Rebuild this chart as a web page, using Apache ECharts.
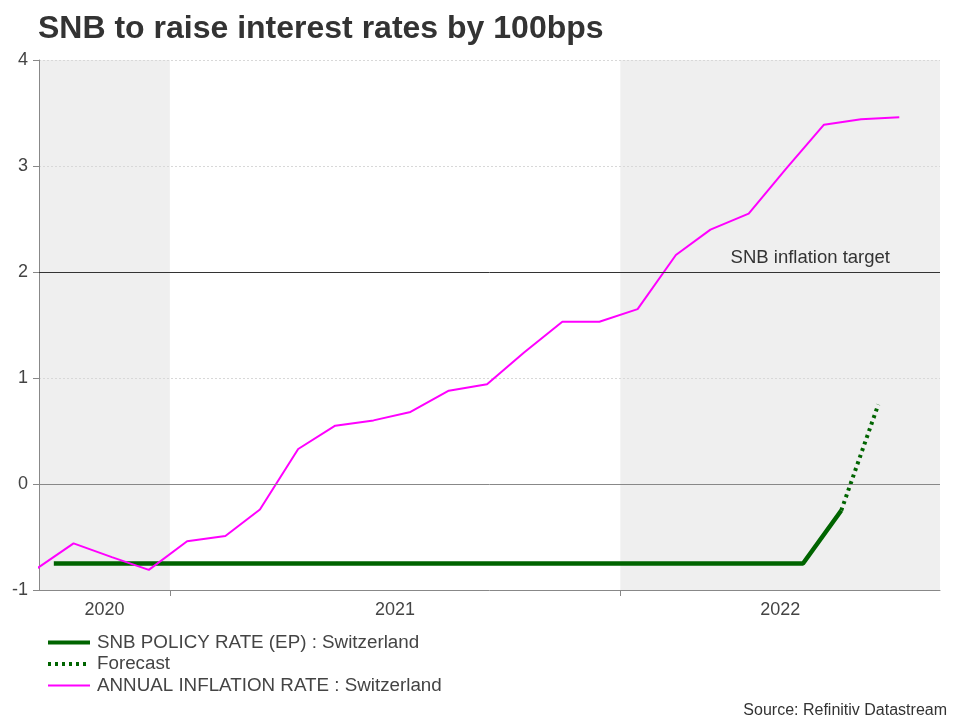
<!DOCTYPE html>
<html>
<head>
<meta charset="utf-8">
<script src="https://cdn.jsdelivr.net/npm/echarts@6/dist/echarts.min.js"></script>
<style>html,body{margin:0;padding:0;background:#fff}#c{width:960px;height:720px}</style>
</head>
<body>
<div id="c"></div>
<script>
// ---- data ----
var titleText = 'SNB to raise interest rates by 100bps';
var sourceText = 'Source: Refinitiv Datastream';
var seriesNames = ['SNB POLICY RATE (EP) : Switzerland', 'Forecast', 'ANNUAL INFLATION RATE : Switzerland'];
var targetLabel = 'SNB inflation target';
var targetValue = 2;

var inflationDates = ['2020-09-15','2020-10-15','2020-11-15','2020-12-15',
  '2021-01-15','2021-02-15','2021-03-15','2021-04-15','2021-05-15','2021-06-15',
  '2021-07-15','2021-08-15','2021-09-15','2021-10-15','2021-11-15','2021-12-15',
  '2022-01-15','2022-02-15','2022-03-15','2022-04-15','2022-05-15','2022-06-15',
  '2022-07-15','2022-08-15'];
var inflationValues = [-0.80, -0.56, -0.69, -0.81,
  -0.54, -0.49, -0.24, 0.33, 0.55, 0.60,
  0.68, 0.88, 0.94, 1.24, 1.53, 1.53,
  1.65, 2.16, 2.40, 2.55, 2.97, 3.39,
  3.44, 3.46];

var policyDates = ['2020-09-29','2020-10-29','2020-11-29','2020-12-29',
  '2021-01-29','2021-02-28','2021-03-29','2021-04-29','2021-05-29','2021-06-29',
  '2021-07-29','2021-08-29','2021-09-29','2021-10-29','2021-11-29','2021-12-29',
  '2022-01-29','2022-02-28','2022-03-29','2022-04-29','2022-05-29','2022-06-29'];
var policyValues = [-0.75, -0.75, -0.75, -0.75,
  -0.75, -0.75, -0.75, -0.75, -0.75, -0.75,
  -0.75, -0.75, -0.75, -0.75, -0.75, -0.75,
  -0.75, -0.75, -0.75, -0.75, -0.75, -0.25];

var forecastDates = ['2022-06-29', '2022-07-29'];
var forecastValues = [-0.25, 0.75];

var xMinDate = '2020-09-17';
var xMaxDate = '2022-09-17';
var yearStarts = ['2021-01-01', '2022-01-01'];
var yTicks = [-1, 0, 1, 2, 3, 4];

// ---- helpers ----
function ts(s) { var p = s.split('-'); return Date.UTC(+p[0], +p[1] - 1, +p[2]); }
function zip(d, v) { return d.map(function (x, i) { return [ts(x), v[i]]; }); }

var xMin = ts(xMinDate), xMax = ts(xMaxDate);
var bounds = [xMin].concat(yearStarts.map(ts)).concat([xMax]);
var yearMids = [];
for (var i = 0; i < bounds.length - 1; i++) yearMids.push((bounds[i] + bounds[i + 1]) / 2);

var FONT = '"Liberation Sans", Arial, Helvetica, sans-serif';
var GREEN = '#006400', MAGENTA = '#ff00ff';
var policyLine = { color: GREEN, width: 4.5, type: 'solid' };
var forecastLine = { color: GREEN, width: 4, type: [3, 4] };
var inflationLine = { color: MAGENTA, width: 2, type: 'solid' };

var chart = echarts.init(document.getElementById('c'), null, { renderer: 'canvas' });

chart.setOption({
  backgroundColor: '#ffffff',
  animation: false,
  textStyle: { fontFamily: FONT },
  title: [
    { text: titleText, left: 33, top: 8,
      textStyle: { fontSize: 32, fontWeight: 'bold', color: '#333333', fontFamily: FONT } },
    { text: sourceText, right: 8, top: 698,
      textStyle: { fontSize: 16, fontWeight: 'normal', color: '#333333', fontFamily: FONT } }
  ],
  legend: {
    orient: 'vertical', left: 41, top: 628,
    itemWidth: 42, itemHeight: 14, itemGap: 2.5,
    selectedMode: false,
    data: [
      { name: seriesNames[0], lineStyle: { width: 4, type: 'solid', color: GREEN } },
      { name: seriesNames[1], lineStyle: { width: 4, type: [3, 4], color: GREEN } },
      { name: seriesNames[2], lineStyle: { width: 2, type: 'solid', color: MAGENTA } }
    ],
    itemStyle: { opacity: 0 },
    textStyle: { fontSize: 18.8, color: '#444444', fontFamily: FONT, padding: [0, 0, 0, 2] }
  },
  grid: { left: 39, right: 20, top: 60, bottom: 130, containLabel: false },
  xAxis: {
    type: 'value', min: xMin, max: xMax, z: 2,
    axisLine: { show: true, onZero: false, lineStyle: { color: '#888888', width: 1 } },
    axisTick: { show: true, length: 6, lineStyle: { color: '#888888' }, customValues: yearStarts.map(ts) },
    axisLabel: {
      show: true, customValues: yearMids, margin: 11,
      fontSize: 18, color: '#444444', fontFamily: FONT,
      formatter: function (v) { return String(new Date(v).getUTCFullYear()); }
    },
    splitLine: { show: false }
  },
  yAxis: {
    type: 'value', min: yTicks[0], max: yTicks[yTicks.length - 1], interval: 1, z: 2,
    axisLine: { show: true, onZero: false, lineStyle: { color: '#888888', width: 1 } },
    axisTick: { show: true, length: 6, lineStyle: { color: '#888888' } },
    axisLabel: { fontSize: 18, color: '#444444', margin: 11, fontFamily: FONT },
    splitLine: { show: true, lineStyle: { color: '#d8d8d8', type: [2, 2], width: 1 } }
  },
  series: [
    {
      name: seriesNames[0], type: 'line', data: zip(policyDates, policyValues),
      showSymbol: false, symbol: 'none', z: 3,
      lineStyle: policyLine, itemStyle: { color: GREEN },
      markArea: {
        silent: true, z: 1,
        itemStyle: { color: '#efefef' },
        data: [
          [{ xAxis: bounds[0] }, { xAxis: bounds[1] }],
          [{ xAxis: bounds[2] }, { xAxis: bounds[3] }]
        ]
      },
      markLine: {
        silent: true, symbol: 'none', animation: false,
        data: [
          { yAxis: 0, lineStyle: { color: '#888888', width: 1, type: 'solid' }, label: { show: false } },
          { yAxis: targetValue, lineStyle: { color: '#333333', width: 1, type: 'solid' },
            label: { show: true, position: 'insideEndTop', formatter: targetLabel, fontSize: 18.5,
              color: '#333333', fontFamily: FONT, distance: 5, padding: [0, 45, 0, 0] } }
        ]
      }
    },
    {
      name: seriesNames[1], type: 'line', data: zip(forecastDates, forecastValues),
      showSymbol: false, symbol: 'none', z: 3,
      lineStyle: forecastLine, itemStyle: { color: GREEN }
    },
    {
      name: seriesNames[2], type: 'line', data: zip(inflationDates, inflationValues),
      showSymbol: false, symbol: 'none', z: 4,
      lineStyle: inflationLine, itemStyle: { color: MAGENTA }
    }
  ]
});
</script>
</body>
</html>
